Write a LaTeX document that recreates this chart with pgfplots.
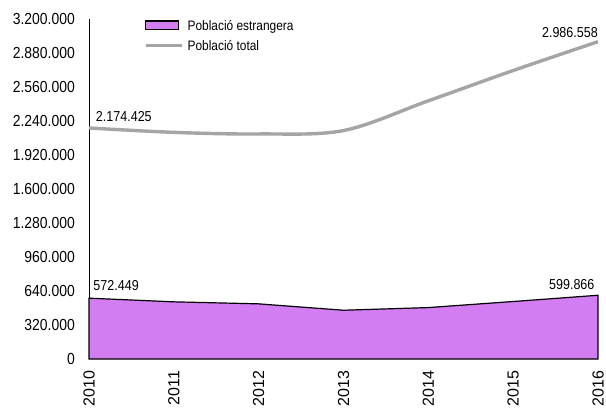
\documentclass[border=0pt]{standalone}
\usepackage{pgfplots}
\pgfplotsset{compat=1.18}
\usepackage{fontspec}
\setmainfont[FakeStretch=0.87]{Liberation Sans}
\newfontfamily\xlabfont{Liberation Sans}
\definecolor{purp}{HTML}{D27DF2}
\definecolor{lgray}{HTML}{A5A5A5}
\newcommand{\tickfont}{\fontsize{16bp}{18bp}\selectfont}
\newcommand{\dlabfont}{\fontsize{14.4bp}{16bp}\selectfont}
\newcommand{\legfont}{\fontsize{13.7bp}{15bp}\selectfont}
\begin{document}
\begin{tikzpicture}
\begin{axis}[
  scale only axis, width=509bp, height=340bp,
  at={(89bp,49bp)}, anchor=south west,
  xmin=2010, xmax=2016, ymin=0, ymax=3200000,
  clip=false,
  axis x line*=bottom,
  x axis line style={draw=none},
  axis y line*=left,
  y axis line style={black, line width=0.9bp},
  major tick length=0pt,
  xtick={2010,2011,2012,2013,2014,2015,2016},
  ytick={0,320000,640000,960000,1280000,1600000,1920000,2240000,2560000,2880000,3200000},
  scaled y ticks=false,
  /pgf/number format/assume math mode=true,
  yticklabel style={font=\tickfont, inner sep=0pt, xshift=-14bp,
     /pgf/number format/.cd, fixed, precision=0, 1000 sep={.}},
  xticklabel style={yshift=-11.7bp, rotate=90, anchor=east, inner sep=0pt,
     font=\xlabfont\fontsize{16bp}{18bp}\selectfont,
     /pgf/number format/1000 sep={}},
  legend style={at={(rel axis cs:0.108,0.997)}, anchor=north west,
     draw=none, fill=none, inner sep=0pt, font=\legfont,
     nodes={inner sep=0pt, text depth=0pt}, row sep=10.2bp,
     cells={anchor=west},
     /tikz/every odd column/.append style={column sep=4bp}},
]
\addplot[draw=black, fill=purp, line width=1.2bp,
  legend image code/.code={\draw[draw=black, fill=purp, line width=1.2bp] (0bp,-4.3bp) rectangle (33bp,4.3bp);}]
  coordinates {(2010,572449) (2011,538000) (2012,519000) (2013,459000) (2014,484000) (2015,541000) (2016,599866)} \closedcycle;
\addlegendentry{Població estrangera}
\addplot[draw=lgray, line width=3.4bp, smooth, tension=0.55,
  legend image code/.code={\draw[draw=lgray, line width=3.4bp] (0bp,0bp) -- (36bp,0bp);}]
  coordinates {(2010,2174425) (2011,2133000) (2012,2118000) (2013,2150000) (2014,2430000) (2015,2715000) (2016,2986558)};
\addlegendentry{Població total}
\node[anchor=west, inner sep=0pt, font=\dlabfont] at (axis cs:2010.08,2278000) {2.174.425};
\node[anchor=east, inner sep=0pt, font=\dlabfont] at (axis cs:2016,3075000) {2.986.558};
\node[anchor=west, inner sep=0pt, font=\dlabfont] at (axis cs:2010.05,696000) {572.449};
\node[anchor=east, inner sep=0pt, font=\dlabfont] at (axis cs:2015.96,703000) {599.866};
\end{axis}
\pgfresetboundingbox
\path[use as bounding box] (0,0) rectangle (606bp,408bp);
\end{tikzpicture}
\end{document}
